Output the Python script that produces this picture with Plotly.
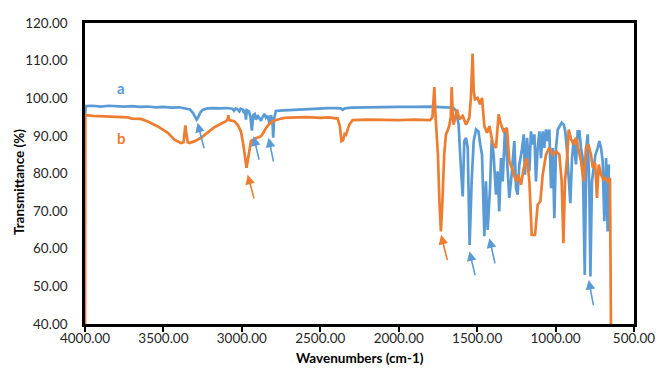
import plotly.graph_objects as go

# ---- data ----
blue_wn = [4000, 3995, 3950, 3900, 3850, 3800, 3750, 3700, 3650, 3600, 3550, 3500, 3450, 3400,
           3350, 3330, 3310, 3295, 3288, 3280, 3265, 3250, 3220, 3180, 3140, 3100, 3060, 3050,
           3040, 3030, 3016, 3008, 2995, 2985, 2980, 2974, 2968, 2955, 2945, 2936, 2928, 2918,
           2910, 2900, 2890, 2878, 2868, 2855, 2846, 2835, 2825, 2815, 2805, 2800, 2795, 2783,
           2760, 2720, 2680, 2640, 2600, 2550, 2500, 2450, 2400, 2370, 2357, 2345, 2300, 2200,
           2100, 2000, 1900, 1800, 1700, 1650, 1635, 1618, 1607, 1592, 1582, 1571, 1560, 1548,
           1535, 1522, 1507, 1492, 1480, 1469, 1454, 1444, 1433, 1418, 1407, 1395, 1380, 1369,
           1359, 1348, 1337, 1322, 1310, 1295, 1280, 1263, 1252, 1242, 1231, 1216, 1203, 1195,
           1182, 1167, 1157, 1146, 1135, 1125, 1114, 1103, 1093, 1082, 1072, 1061, 1050, 1040,
           1029, 1018, 1008, 997, 986, 976, 961, 948, 938, 927, 916, 906, 895, 884, 870, 859,
           848, 838, 827, 814, 804, 795, 785, 778, 768, 757, 746, 731, 721, 710, 700, 689, 678,
           668, 660]
blue_t = [95.5, 97.9, 98.0, 97.8, 98.0, 97.9, 97.8, 97.9, 97.7, 97.8, 97.6, 97.7, 97.5, 97.6,
          97.3, 97.0, 96.0, 94.8, 94.3, 94.8, 96.2, 96.9, 97.3, 97.4, 97.3, 97.4, 97.2, 96.7,
          97.3, 97.1, 96.5, 97.2, 97.0, 96.0, 97.0, 94.3, 96.8, 96.5, 95.0, 91.4, 95.5, 95.8,
          94.3, 95.5, 94.8, 94.0, 95.0, 95.8, 94.8, 95.3, 93.5, 95.5, 94.0, 89.5, 94.5, 96.6,
          96.7, 96.8, 97.0, 97.1, 97.2, 97.3, 97.3, 97.4, 97.4, 97.3, 96.9, 97.3, 97.5, 97.6,
          97.6, 97.7, 97.7, 97.8, 97.6, 97.4, 96.6, 93.0, 84.1, 73.9, 88.6, 89.5, 86.8, 61.0,
          77.9, 88.6, 91.7, 91.2, 87.7, 85.0, 63.3, 77.9, 65.0, 76.1, 89.0, 85.0, 74.4, 80.6,
          69.9, 84.1, 77.9, 92.1, 84.1, 73.5, 79.7, 88.6, 76.1, 74.4, 82.4, 85.9, 90.4, 79.7,
          89.5, 80.6, 91.2, 87.7, 90.4, 77.9, 86.8, 91.2, 84.1, 91.2, 86.8, 91.7, 88.6, 91.7,
          76.1, 86.8, 68.1, 86.8, 91.7, 92.6, 93.5, 93.0, 91.2, 85.9, 79.7, 72.1, 84.1, 89.0,
          82.4, 91.2, 91.2, 86.8, 84.1, 53.0, 86.8, 90.4, 76.1, 52.6, 77.9, 81.5, 85.0, 86.8,
          88.6, 86.8, 83.3, 67.3, 84.1, 64.6, 82.4]

orange_wn = [4000, 3998, 3950, 3900, 3850, 3800, 3750, 3728, 3700, 3644, 3600, 3536, 3472, 3430,
             3388, 3372, 3365, 3360, 3355, 3345, 3335, 3300, 3261, 3220, 3175, 3130, 3101, 3090,
             3086, 3082, 3048, 3025, 3006, 2990, 2978, 2970, 2962, 2950, 2942, 2920, 2899, 2878,
             2860, 2846, 2825, 2804, 2760, 2729, 2650, 2580, 2500, 2450, 2389, 2375, 2365, 2355,
             2345, 2336, 2315, 2294, 2200, 2100, 2000, 1900, 1800, 1785, 1773, 1765, 1750, 1740,
             1731, 1722, 1710, 1699, 1678, 1668, 1662, 1655, 1650, 1628, 1614, 1592, 1571, 1550,
             1540, 1529, 1522, 1514, 1497, 1482, 1469, 1454, 1437, 1422, 1401, 1380, 1363, 1348,
             1331, 1310, 1295, 1274, 1252, 1238, 1220, 1203, 1182, 1167, 1152, 1131, 1114, 1097,
             1082, 1061, 1040, 1018, 997, 976, 961, 950, 940, 927, 916, 901, 884, 870, 855, 838,
             821, 806, 791, 774, 763, 748, 736, 725, 710, 695, 683, 668, 653, 647]
orange_t = [40.0, 95.5, 95.3, 95.2, 95.0, 94.9, 94.8, 94.9, 94.6, 94.5, 93.8, 92.5, 90.8, 89.0,
            88.1, 88.3, 91.0, 92.8, 91.0, 88.3, 88.1, 88.6, 89.5, 90.8, 92.3, 93.3, 93.9, 94.5,
            95.5, 94.2, 93.9, 92.8, 91.2, 87.5, 83.0, 81.5, 83.5, 87.0, 88.6, 89.2, 89.5, 89.9,
            91.0, 92.1, 93.2, 93.9, 94.5, 94.8, 94.9, 95.0, 94.8, 94.9, 94.6, 92.5, 88.6, 88.8,
            90.5, 90.3, 93.0, 94.2, 94.3, 94.2, 94.2, 94.3, 94.2, 95.0, 103.0, 95.0, 85.0, 72.0,
            64.6, 72.0, 85.0, 90.3, 92.6, 95.0, 103.0, 95.0, 93.0, 97.0, 94.4, 95.3, 93.0, 94.8,
            100.0, 111.9, 102.0, 99.7, 100.1, 98.4, 100.1, 92.6, 90.8, 92.6, 88.1, 86.8, 95.7, 93.0,
            91.2, 92.1, 83.3, 81.0, 77.9, 79.7, 77.0, 81.5, 84.1, 77.9, 63.7, 63.7, 71.7, 72.6,
            79.7, 85.0, 86.8, 85.0, 85.9, 85.0, 77.9, 61.5, 77.9, 84.1, 91.7, 89.0, 87.7, 89.5, 86.8, 83.3,
            77.9, 86.8, 87.7, 85.0, 81.5, 82.8, 73.5, 82.4, 79.7, 78.4, 78.8, 77.9, 78.8, 40.0]

series_labels = ["a", "b"]
label_wn = [3772, 3766]
label_t = [102.8, 89.5]

# arrows: head (wn, T) and tail (wn, T), series index 0=a(blue) 1=b(orange)
arrow_series = [0, 0, 0, 1, 1, 0, 0, 0]
arrow_head_wn = [3282, 2925, 2829, 2963, 1730, 1549, 1422, 789]
arrow_head_t = [93.5, 89.9, 89.5, 79.7, 63.7, 59.3, 62.8, 51.7]
arrow_tail_wn = [3239, 2888, 2797, 2920, 1688, 1511, 1384, 757]
arrow_tail_t = [86.3, 83.3, 82.8, 73.0, 56.6, 52.6, 55.7, 44.6]

x_ticks = [4000, 3500, 3000, 2500, 2000, 1500, 1000, 500]
y_ticks = [40, 50, 60, 70, 80, 90, 100, 110, 120]

x_title = "Wavenumbers (cm-1)"
y_title = "Transmittance (%)"

colors = ["#5B9BD5", "#ED7D31"]
FONT = "Lato, 'Open Sans', sans-serif"

fig = go.Figure()
fig.add_trace(go.Scatter(x=blue_wn, y=blue_t, mode="lines", name="a",
                         line=dict(color=colors[0], width=2.7)))
fig.add_trace(go.Scatter(x=orange_wn, y=orange_t, mode="lines", name="b",
                         line=dict(color=colors[1], width=2.7)))

anns = []
for i, lab in enumerate(series_labels):
    anns.append(dict(x=label_wn[i], y=label_t[i], xref="x", yref="y", text="<b>%s</b>" % lab,
                     showarrow=False, font=dict(family=FONT, size=15, color=colors[i])))
for i in range(len(arrow_series)):
    anns.append(dict(x=arrow_head_wn[i], y=arrow_head_t[i], xref="x", yref="y",
                     ax=arrow_tail_wn[i], ay=arrow_tail_t[i], axref="x", ayref="y",
                     text="", showarrow=True, arrowhead=2, arrowsize=1.2, arrowwidth=1.6,
                     arrowcolor=colors[arrow_series[i]]))
# axis titles
anns.append(dict(x=0.5, y=-0.114, xref="paper", yref="paper", xanchor="center", yanchor="middle",
                 text="<b>%s</b>" % x_title, showarrow=False,
                 font=dict(family=FONT, size=13.5, color="black")))
anns.append(dict(x=-0.121, y=0.47, xref="paper", yref="paper", xanchor="center", yanchor="middle",
                 text="<b>%s</b>" % y_title, showarrow=False, textangle=-90,
                 font=dict(family=FONT, size=13.5, color="black")))

fig.update_layout(
    width=669, height=384,
    margin=dict(l=77, r=43, t=15, b=68, autoexpand=False),
    paper_bgcolor="white", plot_bgcolor="white",
    showlegend=False,
    font=dict(family=FONT, size=13, color="#262626"),
    annotations=anns,
    xaxis=dict(range=[4000, 500], tickvals=x_ticks, tickformat=".2f", automargin=False,
               showgrid=False, zeroline=False, showline=True, linecolor="black", linewidth=2.5,
               mirror=True, ticks="outside", ticklen=5, tickwidth=2, tickcolor="black",
               ticklabelstandoff=-5,
               tickfont=dict(family=FONT, size=13.5, color="#262626")),
    yaxis=dict(range=[40, 120], tickvals=y_ticks, tickformat=".2f", automargin=False,
               showgrid=False, zeroline=False, showline=True, linecolor="black", linewidth=2.5,
               mirror=True, ticks="", ticklabelstandoff=12,
               tickfont=dict(family=FONT, size=13.5, color="#262626")),
)

fig.write_html("out.html")
